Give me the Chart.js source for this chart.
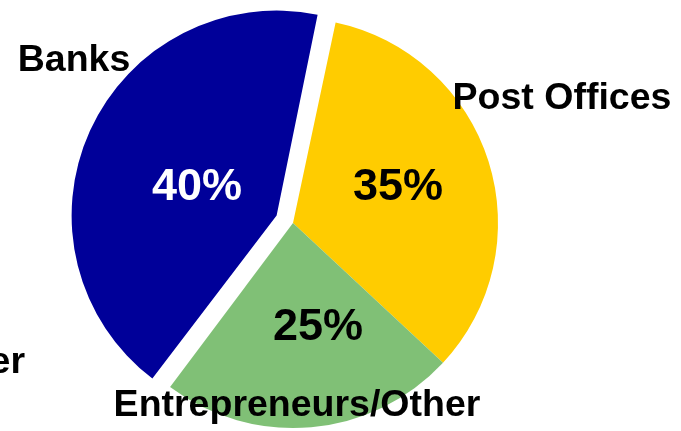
<!DOCTYPE html>
<html>
<head>
<meta charset="utf-8">
<script src="https://cdn.jsdelivr.net/npm/chart.js@4"></script>
<style>
  html,body{margin:0;padding:0;background:#fff;overflow:hidden;}
  #pie{display:block;}
</style>
</head>
<body>
<canvas id="pie" width="681" height="431"></canvas>
<script>
/* ---------- data ---------- */
const categories = ['Post Offices', 'Entrepreneurs/Other', 'Banks'];
const shares     = [33.6, 23.3, 43.1];          // slice sizes as drawn
const pctLabels  = ['35%', '25%', '40%'];        // printed values
const colors     = ['#FFCC00', '#80C076', '#000099'];
const pctColors  = ['#000', '#000', '#fff'];
const offsets    = [0, 0, 72];                   // v4 translates by offset/4 -> 18px

/* ---------- text placement (layout only) ---------- */
const PCT_POS = [[398,188],[318,328],[197,188]];
const CAT_POS = [[562,99,'center'],[297,406,'center'],[74,61,'center']];

// v4 also grows an exploded arc's radius by (offset/4)*(1-sin(angle)); undo that
const keepRadius = {
  id:'keepRadius',
  beforeDatasetsDraw(chart){
    chart.getDatasetMeta(0).data.forEach((arc,i)=>{
      const off = offsets[i]/4;
      if(!off) return;
      const fix = 1 - Math.sin(Math.min(Math.PI, arc.circumference));
      arc.outerRadius = chart.options.radius - off*fix;
    });
  }
};

const labelPlugin = {
  id:'labels',
  afterDraw(chart){
    const ctx = chart.ctx;
    ctx.save();
    ctx.textBaseline = 'middle';
    ctx.font = 'bold 45px "Liberation Sans", Arial, sans-serif';
    ctx.textAlign = 'center';
    pctLabels.forEach((t,i)=>{
      ctx.fillStyle = pctColors[i];
      ctx.fillText(t, PCT_POS[i][0], PCT_POS[i][1]);
    });
    ctx.font = 'bold 37.5px "Liberation Sans", Arial, sans-serif';
    ctx.fillStyle = '#000';
    categories.forEach((t,i)=>{
      ctx.textAlign = CAT_POS[i][2];
      ctx.fillText(t, CAT_POS[i][0], CAT_POS[i][1]);
    });
    // cut-off label at the left edge
    ctx.textAlign = 'right';
    ctx.fillText('er', 25, 363);
    ctx.restore();
  }
};

new Chart(document.getElementById('pie').getContext('2d'), {
  type:'pie',
  data:{
    labels:categories,
    datasets:[{
      data:shares,
      backgroundColor:colors,
      borderWidth:0,
      offset:offsets,
      hoverOffset:0,
      clip:false
    }]
  },
  options:{
    responsive:false,
    animation:false,
    devicePixelRatio:1,
    rotation:12,
    radius:205,
    layout:{padding:{left:0,right:95,top:15,bottom:0}},
    plugins:{legend:{display:false},tooltip:{enabled:false}},
    events:[]
  },
  plugins:[keepRadius, labelPlugin]
});
</script>
</body>
</html>
